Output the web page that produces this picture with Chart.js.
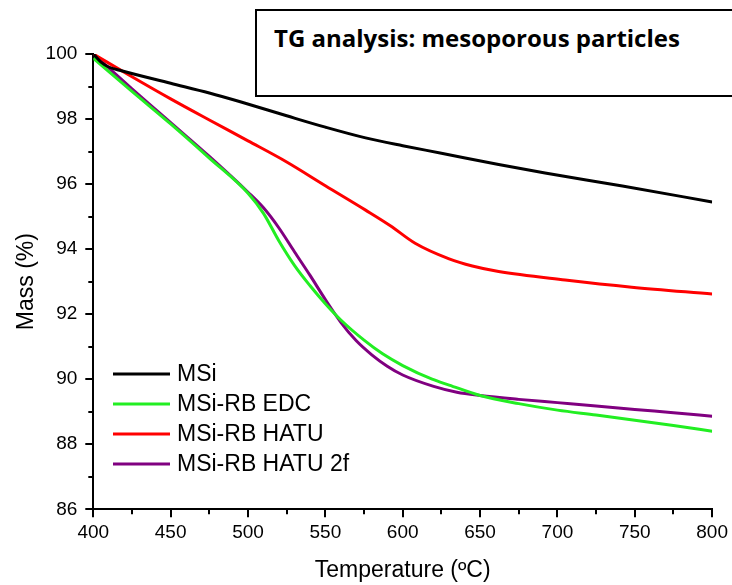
<!DOCTYPE html>
<html>
<head>
<meta charset="utf-8">
<script src="https://cdn.jsdelivr.net/npm/chart.js@4.4.1/dist/chart.umd.min.js"></script>
<style>
  body { margin: 0; background: #fff; }
  #wrap { position: relative; width: 732px; height: 585px; overflow: hidden; }
  #titleBox {
    position: absolute; left: 255px; top: 9px; width: 500px; height: 84px;
    border: 2px solid #000; background: #fff; box-sizing: content-box;
    font-family: "Open Sans", sans-serif; font-weight: bold; font-size: 24px;
    padding: 0; z-index: 2;
  }
  #titleBox span { position: absolute; left: 17px; top: 10px; white-space: nowrap; }
</style>
</head>
<body>
<div id="wrap">
  <canvas id="tg" width="732" height="585"></canvas>
  <div id="titleBox"><span>TG analysis: mesoporous particles</span></div>
</div>
<script>
// valores
var msiT = [400,405,410,417,450,475,495,525,550,576,600,625,662,692,742,800];
var msiM = [100,99.75,99.6,99.5,99.1,98.8,98.53,98.1,97.75,97.42,97.18,96.95,96.6,96.34,95.94,95.45];

var edcT = [400,425,450,475,500,510,520,530,540,550,560,575,587,600,619,630,650,675,700,725,750,775,800];
var edcM = [99.87,98.85,97.85,96.8,95.72,95.1,94.25,93.5,92.88,92.32,91.82,91.2,90.78,90.42,90.0,89.82,89.5,89.25,89.05,88.9,88.74,88.58,88.4];

var hatuT = [400,425,450,475,500,525,550,576,592,608,630,645,662,705,748,800];
var hatuM = [100,99.3,98.62,97.97,97.33,96.68,95.95,95.2,94.72,94.18,93.7,93.48,93.31,93.05,92.83,92.62];

var hatu2fT = [400,425,450,475,500,510,520,530,540,550,560,570,580,590,600,620,635,650,675,700,725,750,775,800];
var hatu2fM = [100,98.93,97.89,96.85,95.75,95.27,94.65,93.92,93.2,92.45,91.75,91.18,90.75,90.4,90.13,89.78,89.6,89.5,89.38,89.28,89.18,89.07,88.97,88.86];

var etiquetas = ["MSi","MSi-RB EDC","MSi-RB HATU","MSi-RB HATU 2f"];
var colores = ["#000000","#22ee22","#ff0000","#800080"];

function puntos(t, m){
    var out = [];
    for (let i = 0; i < t.length; i++) {
        out.push({x: t[i], y: m[i]});
    }
    return out;
}

var series = [puntos(msiT,msiM), puntos(edcT,edcM), puntos(hatuT,hatuM), puntos(hatu2fT,hatu2fM)];

var fuente = "'Liberation Sans', Arial, sans-serif";

// ticks menores y leyenda dibujados a mano
var extras = {
    id: "extras",
    afterDraw(chart){
        const ctx = chart.ctx;
        const xs = chart.scales.x, ys = chart.scales.y;
        ctx.save();
        ctx.strokeStyle = "#000";
        ctx.lineWidth = 2;
        for (let v = 87; v < 100; v += 2) {
            const py = Math.round(ys.getPixelForValue(v));
            ctx.beginPath(); ctx.moveTo(xs.left - 5, py); ctx.lineTo(xs.left, py); ctx.stroke();
        }
        for (let v = 425; v < 800; v += 50) {
            const px = Math.round(xs.getPixelForValue(v));
            ctx.beginPath(); ctx.moveTo(px, ys.bottom); ctx.lineTo(px, ys.bottom + 5); ctx.stroke();
        }
        // leyenda
        ctx.font = "23px " + fuente;
        ctx.textBaseline = "middle";
        ctx.fillStyle = "#000";
        chart.data.datasets.forEach(function(ds, i){
            const y = 374 + i * 30;
            ctx.strokeStyle = ds.borderColor;
            ctx.lineWidth = 3;
            ctx.beginPath(); ctx.moveTo(113, y); ctx.lineTo(170, y); ctx.stroke();
            ctx.fillText(ds.label, 177, y + 1);
        });
        ctx.restore();
    }
};

var ctx = document.getElementById("tg").getContext("2d");
var chart = new Chart(ctx, {
    type: "scatter",
    plugins: [extras],
    data: {
        datasets: series.map(function(s, i){
            return {
                label: etiquetas[i],
                data: s,
                showLine: true,
                borderColor: colores[i],
                backgroundColor: colores[i],
                borderWidth: 3,
                pointRadius: 0,
                cubicInterpolationMode: "monotone"
            };
        })
    },
    options: {
        responsive: false,
        animation: false,
        layout: { padding: { left: 0, right: 19, top: 54, bottom: 0 } },
        plugins: { legend: { display: false }, tooltip: { enabled: false } },
        scales: {
            x: {
                type: "linear", min: 400, max: 800,
                ticks: { stepSize: 50, color: "#000", padding: 4, font: { family: fuente, size: 19 } },
                grid: { drawOnChartArea: false, color: "#000", lineWidth: 2, tickLength: 8 },
                border: { color: "#000", width: 2 },
                title: { display: true, text: "Temperature (ºC)", color: "#000", padding: { top: 0, bottom: 1 },
                         font: { family: fuente, size: 23 } },
                afterFit(scale){ scale.height = 585 - 509.3; }
            },
            y: {
                min: 86, max: 100,
                ticks: { stepSize: 2, color: "#000", padding: 8, font: { family: fuente, size: 19 } },
                grid: { drawOnChartArea: false, color: "#000", lineWidth: 2, tickLength: 8 },
                border: { color: "#000", width: 2 },
                title: { display: true, text: "Mass (%)", color: "#000", padding: { top: 13, bottom: 0 },
                         font: { family: fuente, size: 23 } },
                afterFit(scale){ scale.width = 93.3; }
            }
        }
    }
});
</script>
</body>
</html>
